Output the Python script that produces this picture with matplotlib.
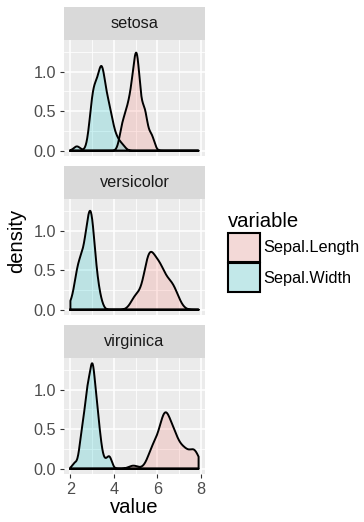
import numpy as np
import matplotlib
matplotlib.use("Agg")
import matplotlib.pyplot as plt
from matplotlib.patches import Patch

# ---- data: iris sepal measurements ----
species = ["setosa", "versicolor", "virginica"]
variables = ["Sepal.Length", "Sepal.Width"]

setosa_length = [5.1,4.9,4.7,4.6,5.0,5.4,4.6,5.0,4.4,4.9,5.4,4.8,4.8,4.3,5.8,5.7,5.4,5.1,5.7,5.1,
                 5.4,5.1,4.6,5.1,4.8,5.0,5.0,5.2,5.2,4.7,4.8,5.4,5.2,5.5,4.9,5.0,5.5,4.9,4.4,5.1,
                 5.0,4.5,4.4,5.0,5.1,4.8,5.1,4.6,5.3,5.0]
setosa_width = [3.5,3.0,3.2,3.1,3.6,3.9,3.4,3.4,2.9,3.1,3.7,3.4,3.0,3.0,4.0,4.4,3.9,3.5,3.8,3.8,
                3.4,3.7,3.6,3.3,3.4,3.0,3.4,3.5,3.4,3.2,3.1,3.4,4.1,4.2,3.1,3.2,3.5,3.6,3.0,3.4,
                3.5,2.3,3.2,3.5,3.8,3.0,3.8,3.2,3.7,3.3]
versicolor_length = [7.0,6.4,6.9,5.5,6.5,5.7,6.3,4.9,6.6,5.2,5.0,5.9,6.0,6.1,5.6,6.7,5.6,5.8,6.2,5.6,
                     5.9,6.1,6.3,6.1,6.4,6.6,6.8,6.7,6.0,5.7,5.5,5.5,5.8,6.0,5.4,6.0,6.7,6.3,5.6,5.5,
                     5.5,6.1,5.8,5.0,5.6,5.7,5.7,6.2,5.1,5.7]
versicolor_width = [3.2,3.2,3.1,2.3,2.8,2.8,3.3,2.4,2.9,2.7,2.0,3.0,2.2,2.9,2.9,3.1,3.0,2.7,2.2,2.5,
                    3.2,2.8,2.5,2.8,2.9,3.0,2.8,3.0,2.9,2.6,2.4,2.4,2.7,2.7,3.0,3.4,3.1,2.3,3.0,2.5,
                    2.6,3.0,2.6,2.3,2.7,3.0,2.9,2.9,2.5,2.8]
virginica_length = [6.3,5.8,7.1,6.3,6.5,7.6,4.9,7.3,6.7,7.2,6.5,6.4,6.8,5.7,5.8,6.4,6.5,7.7,7.7,6.0,
                    6.9,5.6,7.7,6.3,6.7,7.2,6.2,6.1,6.4,7.2,7.4,7.9,6.4,6.3,6.1,7.7,6.3,6.4,6.0,6.9,
                    6.7,6.9,5.8,6.8,6.7,6.7,6.3,6.5,6.2,5.9]
virginica_width = [3.3,2.7,3.0,2.9,3.0,3.0,2.5,2.9,2.5,3.6,3.2,2.7,3.0,2.5,2.8,3.2,3.0,3.8,2.6,2.2,
                   3.2,2.8,2.8,2.7,3.3,3.2,2.8,3.0,2.8,3.0,2.8,3.8,2.8,2.8,2.6,3.0,3.4,3.1,3.0,3.1,
                   3.1,3.1,2.7,3.2,3.3,3.0,2.5,3.0,3.4,3.0]

x_ticks = [2, 4, 6, 8]
y_ticks = [0.0, 0.5, 1.0]
y_tick_labels = ["0.0", "0.5", "1.0"]

data = {
    "setosa": [setosa_length, setosa_width],
    "versicolor": [versicolor_length, versicolor_width],
    "virginica": [virginica_length, virginica_width],
}

palette = ["#F8766D", "#00BFC4"]
ALPHA = 0.2

plt.rcParams["font.family"] = ["Liberation Sans", "DejaVu Sans"]

SMALL = 11.7   # tick labels, strip text, legend labels
LARGE = 14.6   # axis titles, legend title


def bw_nrd0(x):
    x = np.asarray(x, float)
    hi = np.std(x, ddof=1)
    q75, q25 = np.percentile(x, [75, 25])
    lo = min(hi, (q75 - q25) / 1.34)
    return 0.9 * lo * len(x) ** (-0.2)


def kde(x, grid):
    x = np.asarray(x, float)
    bw = bw_nrd0(x)
    z = (grid[:, None] - x[None, :]) / bw
    return np.exp(-0.5 * z ** 2).sum(axis=1) / (len(x) * bw * np.sqrt(2 * np.pi))


all_vals = np.concatenate([np.asarray(v, float) for s in species for v in data[s]])
xmin, xmax = all_vals.min(), all_vals.max()
grid = np.linspace(xmin, xmax, 512)

dens = {s: [kde(v, grid) for v in data[s]] for s in species}
ymax_data = max(d.max() for s in species for d in dens[s])
xr = xmax - xmin
xlim = (xmin - 0.05 * xr, xmax + 0.05 * xr)
ylim = (-0.05 * ymax_data, ymax_data * 1.05)

W, H = 364, 522
fig = plt.figure(figsize=(W / 100, H / 100), dpi=100)
fig.patch.set_facecolor("white")


def px_axes(left, top, width, height):
    return fig.add_axes([left / W, 1 - (top + height) / H, width / W, height / H])


panel_left, panel_w = 64, 141
panel_h, strip_h = 116, 33
strip_tops = [7, 166, 325]


def blend(c, a, bg):
    c = np.array(matplotlib.colors.to_rgb(c))
    bg = np.array(matplotlib.colors.to_rgb(bg))
    return tuple(a * c + (1 - a) * bg)


for i, s in enumerate(species):
    st = strip_tops[i]
    sax = px_axes(panel_left, st, panel_w, strip_h)
    sax.set_facecolor("#D9D9D9")
    sax.set_xticks([]); sax.set_yticks([])
    for sp in sax.spines.values():
        sp.set_visible(False)
    sax.text(0.5, 0.5, s, ha="center", va="center", fontsize=SMALL, color="#1A1A1A",
             transform=sax.transAxes)

    ax = px_axes(panel_left, st + strip_h, panel_w, panel_h)
    ax.set_facecolor("#EBEBEB")
    for sp in ax.spines.values():
        sp.set_visible(False)
    ax.set_xlim(*xlim); ax.set_ylim(*ylim)
    ax.set_xticks(x_ticks)
    ax.set_xticks([3, 5, 7], minor=True)
    ax.set_yticks(y_ticks)
    ax.set_yticks([0.25, 0.75, 1.25], minor=True)
    ax.grid(which="major", color="white", linewidth=1.1)
    ax.grid(which="minor", color="white", linewidth=0.55)
    ax.set_axisbelow(True)
    ax.set_yticklabels(y_tick_labels)
    ax.tick_params(axis="both", which="major", length=3.2, width=0.8, color="#333333",
                   labelsize=SMALL, labelcolor="#4D4D4D", pad=2.5)
    ax.tick_params(axis="both", which="minor", length=0)
    if i < 2:
        ax.tick_params(axis="x", which="major", labelbottom=False, length=0)

    for j, v in enumerate(variables):
        d = dens[s][j]
        xs = np.concatenate([[grid[0]], grid, [grid[-1]]])
        ys = np.concatenate([[0], d, [0]])
        ax.fill(xs, ys, facecolor=palette[j], alpha=ALPHA, edgecolor="none", zorder=2)
        ax.plot(np.append(xs, xs[0]), np.append(ys, ys[0]), color="black", linewidth=1.4,
                zorder=3, solid_joinstyle="round")

    if i == 2:
        ax.set_xlabel("value", fontsize=LARGE, color="black", labelpad=1)

fig.text(17 / W, 1 - 241 / H, "density", rotation=90, ha="center", va="center",
         fontsize=LARGE, color="black")

# legend
handles = [Patch(facecolor=blend(palette[j], ALPHA, "#F2F2F2"), edgecolor="black",
                 linewidth=1.5, label=v) for j, v in enumerate(variables)]
leg = fig.legend(handles=handles, title="variable", loc="upper left",
                 bbox_to_anchor=(228 / W, 1 - 212 / H), frameon=False,
                 fontsize=SMALL, title_fontsize=LARGE, handlelength=1.95, handleheight=2.37,
                 labelspacing=0.1, handletextpad=0.25, borderpad=0, borderaxespad=0)
leg._legend_box.align = "left"

fig.savefig("out.png", dpi=100)
